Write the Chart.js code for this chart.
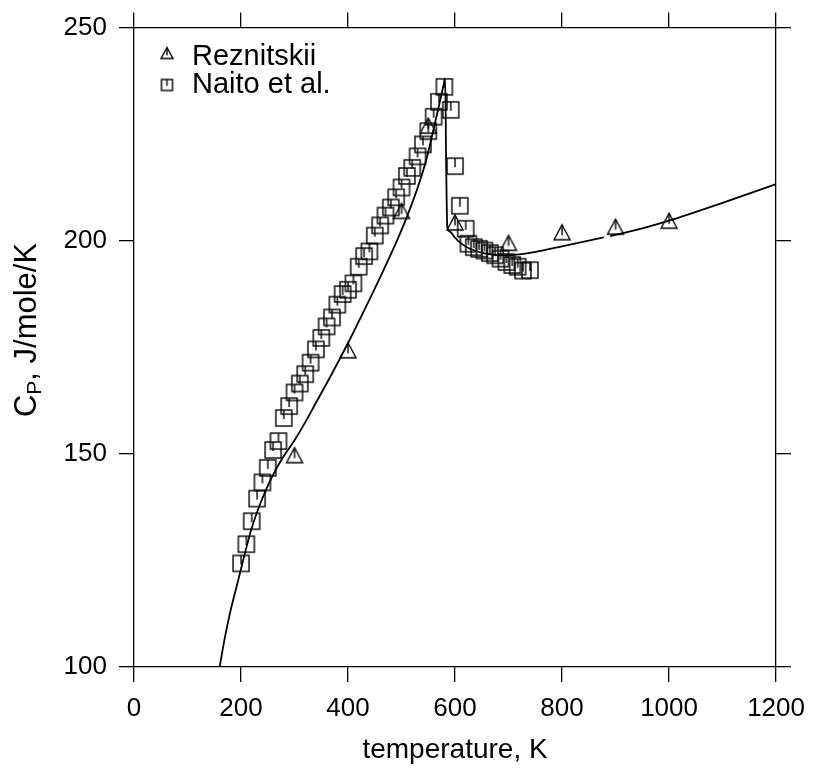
<!DOCTYPE html>
<html>
<head>
<meta charset="utf-8">
<script src="https://cdn.jsdelivr.net/npm/chart.js@4.4.0/dist/chart.umd.min.js"></script>
<style>
  html, body { margin: 0; padding: 0; background: #fff; }
</style>
</head>
<body>
<canvas id="myChart" width="816" height="772"></canvas>
<script>
// curva calculada
const curvaT  = [160, 170, 180, 190, 200, 210, 220, 235, 250, 265, 280, 300, 320, 340, 360, 380, 400, 430, 460, 490, 510, 530, 545, 560, 572, 580, 581.5, 583.5, 585.5, 590, 600, 613, 630, 657, 690, 720, 760, 800, 878, 890, 950, 1000, 1100, 1200];
const curvaCp = [100, 107, 113, 118, 123, 128, 132.6, 138, 142.5, 146.3, 149.5, 153.2, 157.4, 162, 166.5, 171.2, 176, 183.6, 191.4, 199.6, 205.6, 212.4, 218.4, 226.2, 232.8, 237.3, 238, 217, 203.2, 202.2, 200.7, 199.2, 198.0, 197.0, 196.6, 196.8, 197.6, 198.7, 200.8, 201.1, 202.9, 204.7, 208.9, 213.3];

// Reznitskii (triangulos)
const reznitskiiT  = [300, 400, 500, 550, 600, 700, 800, 900, 1000];
const reznitskiiCp = [149.7, 174.3, 207.0, 227.0, 204.3, 199.5, 202.0, 203.3, 204.7];

// Naito et al. (cuadrados)
const naitoT  = [200, 210, 220, 230, 240, 250, 260, 270, 280, 290, 300, 310, 320, 330, 340, 350, 360, 370, 380, 390, 400, 410, 420, 430, 440, 450, 460, 470, 480, 490, 500, 510, 520, 530, 540, 550, 560, 570, 580, 592, 600, 609, 620, 625, 635, 645, 655, 665, 675, 685, 696, 707, 717, 727, 740];
const naitoCp = [124.3, 128.8, 134.2, 139.5, 143.3, 146.7, 150.9, 153.0, 158.4, 161.2, 164.4, 166.5, 168.7, 171.4, 174.5, 177.2, 179.9, 182.0, 185.0, 187.5, 188.5, 190.0, 193.9, 196.4, 197.5, 201.2, 203.6, 205.9, 207.8, 210.2, 212.5, 215.2, 217.1, 219.8, 222.6, 225.7, 229.1, 232.6, 236.1, 230.7, 217.5, 208.2, 202.8, 199.3, 198.5, 198.1, 197.7, 197.1, 196.6, 195.8, 195.0, 194.3, 193.9, 193.0, 193.1];

const ticksX = [0, 200, 400, 600, 800, 1000, 1200];
const ticksY = [100, 150, 200, 250];

const fuente = "'Liberation Sans', Arial, Helvetica, sans-serif";
const negro = '#000';

function crearTriangulo(ancho, alto) {
  const c = document.createElement('canvas');
  c.width = ancho + 4;
  c.height = alto + 4;
  const g = c.getContext('2d');
  const cx = c.width / 2, cy = c.height / 2;
  g.strokeStyle = negro;
  g.lineWidth = 1.4;
  g.beginPath();
  g.moveTo(cx, cy - alto / 2);
  g.lineTo(cx + ancho / 2, cy + alto / 2);
  g.lineTo(cx - ancho / 2, cy + alto / 2);
  g.closePath();
  g.stroke();
  g.beginPath();
  g.moveTo(cx, cy - alto / 2);
  g.lineTo(cx, cy + alto * 0.2);
  g.stroke();
  return c;
}

function crearCuadrado(lado) {
  const c = document.createElement('canvas');
  c.width = lado + 4;
  c.height = lado + 4;
  const g = c.getContext('2d');
  const cx = c.width / 2, cy = c.height / 2;
  g.strokeStyle = negro;
  g.lineWidth = 1.4;
  g.strokeRect(cx - lado / 2, cy - lado / 2, lado, lado);
  g.beginPath();
  g.moveTo(cx, cy - lado / 2);
  g.lineTo(cx, cy + 1);
  g.stroke();
  return c;
}

const triangulo = crearTriangulo(16, 15);
const cuadrado = crearCuadrado(16);
const trianguloChico = crearTriangulo(12, 11);
const cuadradoChico = crearCuadrado(11);

const aPuntos = (xs, ys) => xs.map((x, i) => ({ x: x, y: ys[i] }));

// titulo del eje y con subindice y leyenda dentro del grafico
const extras = {
  id: 'extras',
  afterDraw(chart) {
    const ctx = chart.ctx;
    ctx.save();
    ctx.fillStyle = negro;
    ctx.textBaseline = 'alphabetic';

    // eje y: C_P, J/mole/K
    const fGrande = "31px " + fuente;
    const fChica = "21px " + fuente;
    ctx.font = fGrande;
    const wC = ctx.measureText('C').width;
    const wResto = ctx.measureText(', J/mole/K').width;
    ctx.font = fChica;
    const wP = ctx.measureText('P').width;
    const total = wC + wP + wResto;
    ctx.translate(36, 330);
    ctx.rotate(-Math.PI / 2);
    let x = -total / 2;
    ctx.font = fGrande;
    ctx.fillText('C', x, 0);
    x += wC;
    ctx.font = fChica;
    ctx.fillText('P', x, 5);
    x += wP;
    ctx.font = fGrande;
    ctx.fillText(', J/mole/K', x, 0);
    ctx.restore();

    // leyenda
    ctx.save();
    ctx.fillStyle = negro;
    ctx.font = "29px " + fuente;
    ctx.textBaseline = 'alphabetic';
    ctx.drawImage(trianguloChico, 167 - trianguloChico.width / 2, 53 - trianguloChico.height / 2);
    ctx.fillText('Reznitskii', 192, 65);
    ctx.drawImage(cuadradoChico, 167 - cuadradoChico.width / 2, 85 - cuadradoChico.height / 2);
    ctx.fillText('Naito et al.', 192, 93);
    ctx.restore();
  }
};

const ejeComun = {
  type: 'linear',
  grid: { drawOnChartArea: false, drawTicks: true, tickLength: 15, color: negro, lineWidth: 1.3 },
  border: { display: true, color: negro, width: 1.3 }
};

const ctx = document.getElementById('myChart').getContext('2d');
const myChart = new Chart(ctx, {
  type: 'scatter',
  data: {
    datasets: [
      {
        label: 'curva',
        data: aPuntos(curvaT, curvaCp),
        showLine: true,
        borderColor: negro,
        borderWidth: 1.8,
        pointRadius: 0,
        cubicInterpolationMode: 'monotone',
        segment: {
          borderColor: s => (s.p0.parsed.x >= 878 && s.p1.parsed.x <= 890) ? 'rgba(0,0,0,0)' : negro
        }
      },
      {
        label: 'Reznitskii',
        data: aPuntos(reznitskiiT, reznitskiiCp),
        pointStyle: triangulo,
        pointRadius: 8
      },
      {
        label: 'Naito et al.',
        data: aPuntos(naitoT, naitoCp),
        pointStyle: cuadrado,
        pointRadius: 8
      }
    ]
  },
  options: {
    responsive: false,
    animation: false,
    layout: { padding: { left: 0, top: 22, right: 38, bottom: 0 } },
    plugins: { legend: { display: false }, tooltip: { enabled: false } },
    scales: {
      x: {
        ...ejeComun,
        position: 'bottom',
        min: 0, max: 1200,
        afterBuildTicks: s => { s.ticks = ticksX.map(v => ({ value: v })); },
        ticks: { color: negro, font: { family: fuente, size: 26 }, padding: 11, maxRotation: 0, callback: v => String(v) },
        title: { display: true, text: 'temperature, K', color: negro, font: { family: fuente, size: 28 }, padding: { top: 0, bottom: 5 } },
        afterFit: s => { s.height = 105; }
      },
      y: {
        ...ejeComun,
        position: 'left',
        min: 100, max: 250,
        afterBuildTicks: s => { s.ticks = ticksY.map(v => ({ value: v })); },
        ticks: { color: negro, font: { family: fuente, size: 26 }, padding: 12, callback: v => String(v) },
        afterFit: s => { s.width = 134; }
      },
      x2: {
        ...ejeComun,
        position: 'top',
        min: 0, max: 1200,
        afterBuildTicks: s => { s.ticks = ticksX.map(v => ({ value: v })); },
        ticks: { display: false },
        afterFit: s => { s.height = 0; }
      },
      y2: {
        ...ejeComun,
        position: 'right',
        min: 100, max: 250,
        afterBuildTicks: s => { s.ticks = ticksY.map(v => ({ value: v })); },
        ticks: { display: false },
        afterFit: s => { s.width = 0; }
      }
    }
  },
  plugins: [extras]
});
</script>
</body>
</html>
